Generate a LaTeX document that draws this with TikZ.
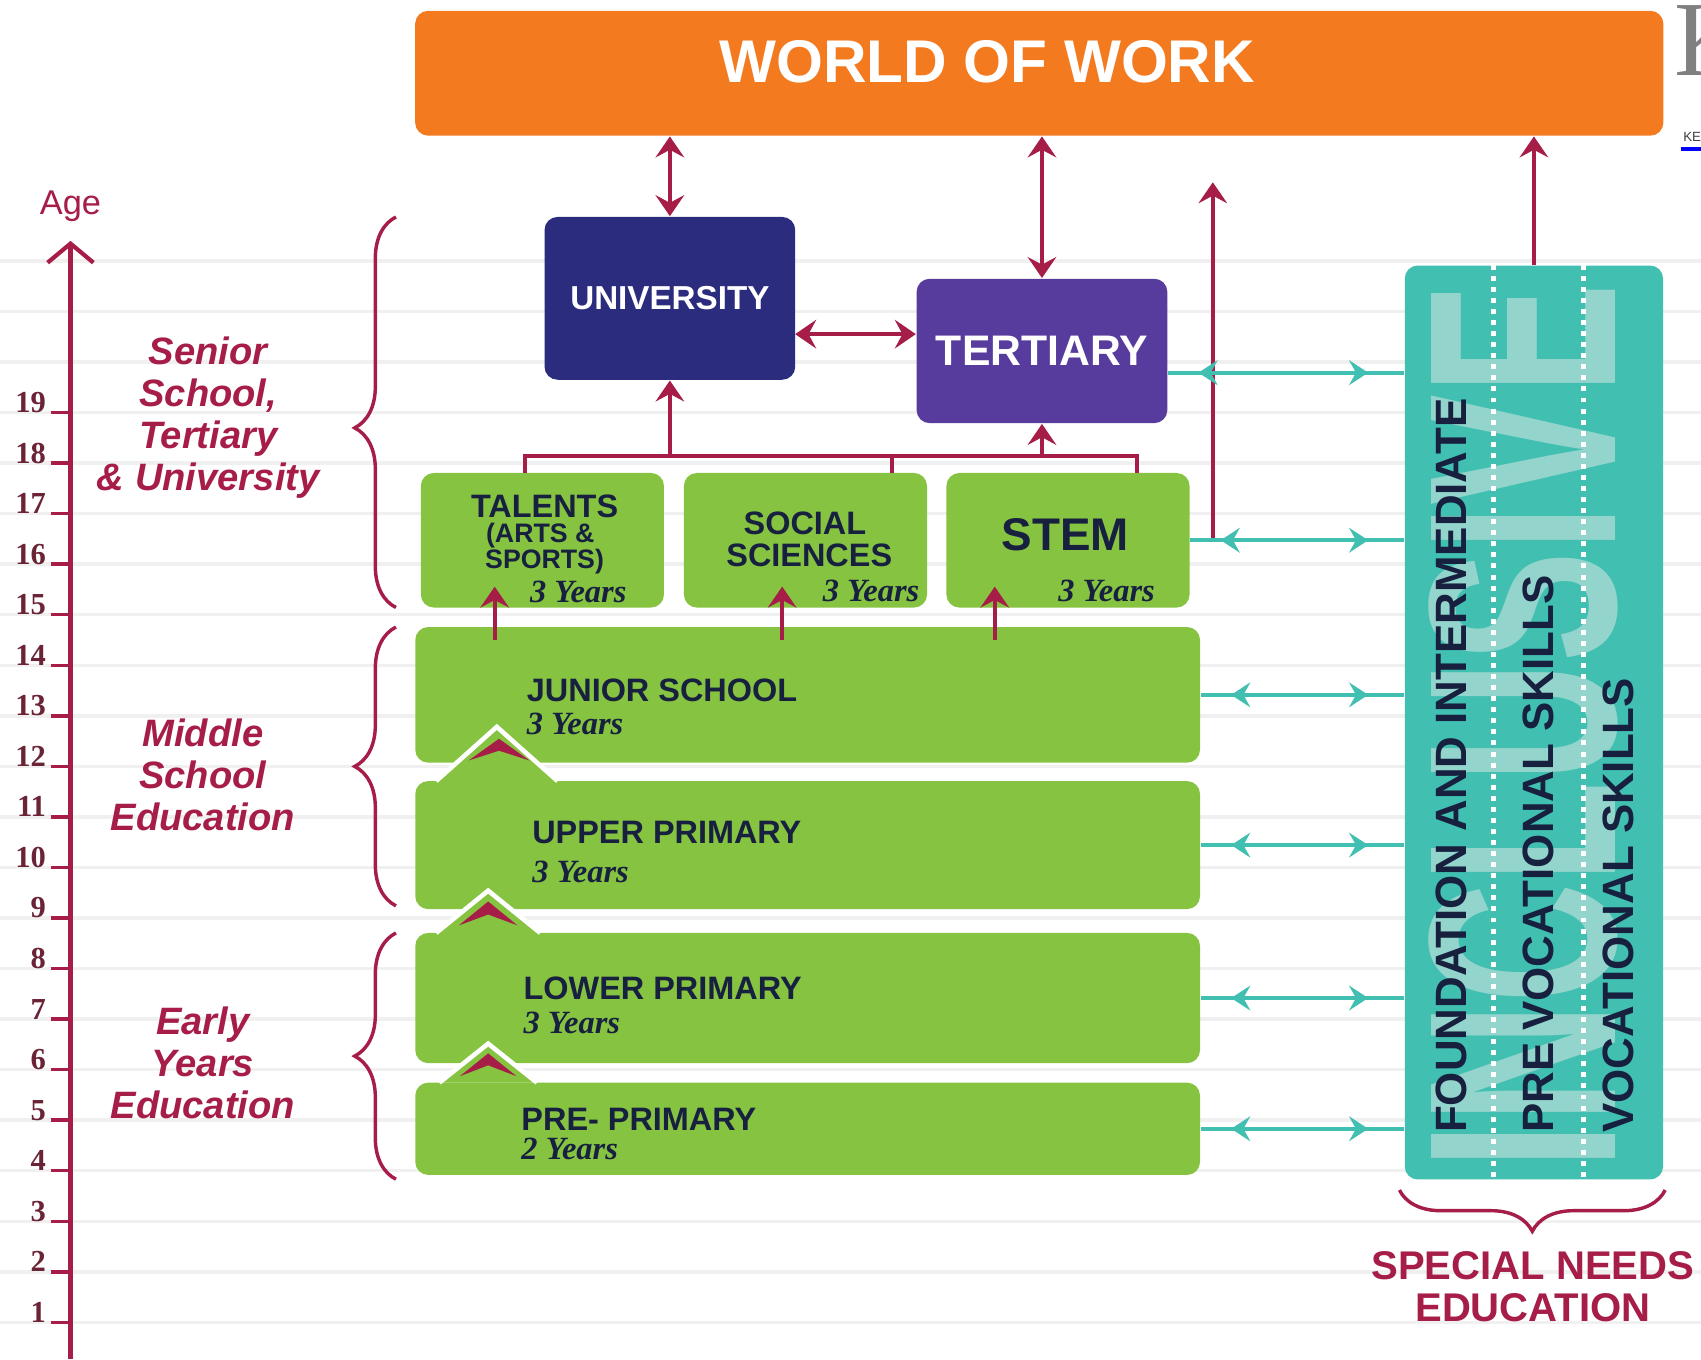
\documentclass[tikz,border=0pt]{standalone}
\usepackage{fontspec}
\setmainfont{Liberation Sans}
\newfontfamily\serifyears{Liberation Serif}
\usetikzlibrary{arrows.meta,decorations.pathreplacing,decorations.markings}

\begin{document}
\begin{tikzpicture}[x=0.01cm,y=-0.01cm,
    box/.style={rounded corners=0.12cm,inner sep=0pt},
    level/.style={box,fill=levelgreen,minimum width=7.23cm},
    stream/.style={box,fill=levelgreen,minimum width=2.24cm,minimum height=1.24cm},
    headtext/.style={text=inknavy,inner sep=0pt,font=\bfseries\fontsize{8.5}{9}\selectfont},
    years/.style={text=inknavy,inner sep=0pt,font=\serifyears\bfseries\itshape\fontsize{8.5}{9}\selectfont},
    grouplabel/.style={text=agered,align=center,inner sep=0pt,font=\bfseries\itshape\fontsize{10}{11.06}\selectfont},
    snetext/.style={text=inknavy,rotate=90,anchor=west,inner sep=0pt,font=\bfseries\fontsize{11.5}{12}\selectfont},
    gridline/.style={gridgray,line width=0.9pt},
    ageaxis/.style={agered,line width=1.1pt,-{Straight Barb[length=5pt,width=12pt]}},
    agetick/.style={agered,line width=0.9pt},
    agenum/.style={text=agenumc,inner sep=0pt,font=\serifyears\bfseries\fontsize{8}{8}\selectfont},
    redtip/.tip={Stealth[length=5.5pt,width=7.5pt,inset=2pt]},
    link/.style={agered,line width=1pt},
    redarrow/.style={link,-redtip},
    redboth/.style={link,redtip-redtip},
    snelink/.style={sneteal,line width=1pt,postaction={decorate},
      decoration={markings,
        mark=at position 0.28cm with {\arrowreversed{Stealth[length=5pt,width=6.5pt,inset=1.8pt]}},
        mark=at position -0.33cm with {\arrow{Stealth[length=5pt,width=6.5pt,inset=1.8pt]}}}},
    brace/.style={agered,line width=0.9pt,decorate,decoration={brace,amplitude=0.38cm}},
    peakedge/.style={white,line width=1.2pt,line join=miter},
    chevron/.style={fill=agered},
    dotline/.style={white,line width=1.3pt,dash pattern=on 1.3pt off 1.6pt}]
    \definecolor{workorange}{HTML}{F47A20}
    \definecolor{uninavy}{HTML}{2B2C7D}
    \definecolor{tertpurple}{HTML}{583C9D}
    \definecolor{levelgreen}{HTML}{86C341}
    \definecolor{sneteal}{HTML}{41BFB1}
    \definecolor{snelight}{HTML}{93D5CC}
    \definecolor{agered}{HTML}{A61D48}
    \definecolor{agenumc}{HTML}{6A2436}
    \definecolor{inknavy}{HTML}{17203F}
    \definecolor{gridgray}{HTML}{F0F0F0}
    \useasboundingbox (0,0) rectangle (1568,1253);
    % background lines
    \foreach \k in {0,...,21}
      \draw[gridline] (0,{1219-46.6*\k}) -- (1568,{1219-46.6*\k});
    % age axis
    \coordinate (axisfoot) at (65,1253);
    \coordinate (axistop) at (65,222);
    \draw[ageaxis] (axisfoot) -- (axistop);
    \node[text=agered,font=\fontsize{9}{9}\selectfont] (age) at (65,190) {Age};
    \foreach \a in {1,...,19} {
      \draw[agetick] (47,{1219-46.6*(\a-1)}) -- (65,{1219-46.6*(\a-1)});
      \node[agenum,anchor=base east] at (43,{1219-46.6*(\a-1)}) {\a};
    }
    % braces
    \draw[brace,decoration={aspect=0.46}] (365,560) -- (365,200);
    \draw[brace] (365,835) -- (365,578);
    \draw[brace] (365,1087) -- (365,860);
    \node[grouplabel] (senior) at (192,385) {Senior\\School,\\Tertiary\\\& University};
    \node[grouplabel] (middle) at (187,714) {Middle\\School\\Education};
    \node[grouplabel] (early) at (187,980) {Early\\Years\\Education};

    % world of work
    \node[box,fill=workorange,minimum width=11.5cm,minimum height=1.15cm] (work) at (958,67.5) {};
    \node[text=white,inner sep=0pt,font=\bfseries\fontsize{15.8}{18}\selectfont] (worklbl) at (910,57) {WORLD OF WORK};
    % university, tertiary
    \node[box,fill=uninavy,minimum width=2.31cm,minimum height=1.5cm,text=white,font=\bfseries\fontsize{8.7}{9}\selectfont] (uni) at (617.5,275) {UNIVERSITY};
    \node[box,fill=tertpurple,minimum width=2.31cm,minimum height=1.33cm,text=white,font=\bfseries\fontsize{11.2}{12}\selectfont] (tert) at (960.5,323.5) {TERTIARY};

    % senior school pathways
    \node[stream] (talents) at (500,498) {};
    \node[stream] (social) at (742.5,498) {};
    \node[stream] (stem) at (984.5,498) {};
    \node[headtext] at (502,467) {TALENTS};
    \node[headtext,font=\bfseries\fontsize{7}{7}\selectfont] at (498,494) {(ARTS \&};
    \node[headtext,font=\bfseries\fontsize{7}{7}\selectfont] at (502,518) {SPORTS)};
    \node[headtext] at (742,482) {SOCIAL};
    \node[headtext] at (746,512) {SCIENCES};
    \node[headtext,font=\bfseries\fontsize{12}{12}\selectfont] at (982,493) {STEM};
    \node[years] at (533,546) {3 Years};
    \node[years] at (803,545) {3 Years};
    \node[years] at (1020,545) {3 Years};

    % levels
    \node[level,minimum height=1.25cm] (junior) at (744.5,640.5) {};
    \node[level,minimum height=1.18cm] (upper) at (744.5,779) {};
    \node[level,minimum height=1.2cm] (lower) at (744.5,920) {};
    \node[level,minimum height=0.85cm] (pre) at (744.5,1040.5) {};
    % peaks
    \fill[levelgreen] (402,720) -- (458,670) -- (514,720) -- cycle;
    \draw[peakedge] (402,720) -- (458,670) -- (514,720);
    \fill[levelgreen] (402,860) -- (450,821) -- (498,860) -- cycle;
    \draw[peakedge] (402,860) -- (450,821) -- (498,860);
    \fill[levelgreen] (405,998) -- (450,962) -- (495,998) -- cycle;
    \draw[peakedge] (405,998) -- (450,962) -- (495,998);
    \path[chevron] (460,681) -- (488,701) -- (460,692) -- (432,701) -- cycle;
    \path[chevron] (450,831) -- (477,853) -- (450,843) -- (423,853) -- cycle;
    \path[chevron] (450,971) -- (476,992) -- (450,982) -- (424,992) -- cycle;
    \node[headtext,anchor=west] at (485,636) {JUNIOR SCHOOL};
    \node[years,anchor=west] at (485,667) {3 Years};
    \node[headtext,anchor=west] at (490,767) {UPPER PRIMARY};
    \node[years,anchor=west] at (490,804) {3 Years};
    \node[headtext,anchor=west] at (482,911) {LOWER PRIMARY};
    \node[years,anchor=west] at (482,943) {3 Years};
    \node[headtext,anchor=west] at (480,1032) {PRE- PRIMARY};
    \node[years,anchor=west] at (480,1059) {2 Years};

    % special needs
    \node[box,fill=sneteal,minimum width=2.38cm,minimum height=8.42cm] (sne) at (1414,666) {};
    \node[rotate=90,inner sep=0pt,text=snelight,font=\bfseries] (inclusive) at (1404,670) {\resizebox{8.16cm}{1.72cm}{INCLUSIVE}};
    \draw[dotline] ([xshift=-0.37cm]sne.north) -- ([xshift=-0.37cm]sne.south);
    \draw[dotline] ([xshift=0.46cm]sne.north) -- ([xshift=0.46cm]sne.south);
    \node[snetext] at (1338,1045) {FOUNDATION AND INTERMEDIATE};
    \node[snetext] at (1418,1045) {PRE VOCATIONAL SKILLS};
    \node[snetext] at (1492,1045) {VOCATIONAL SKILLS};
    \draw[brace] (1535,1097) -- (1290,1097);
    \node[text=agered,align=center,inner sep=0pt,font=\bfseries\fontsize{10.5}{11}\selectfont] (snelbl) at (1413,1186) {SPECIAL NEEDS\\EDUCATION};

    % connectors
    \draw[redboth] (work.south -| uni.north) -- (uni.north);
    \draw[redboth] (work.south -| tert.north) -- (tert.north);
    \coordinate (unilink) at (733,308);
    \draw[redboth] (unilink) -- (unilink -| tert.west);
    \draw[redarrow] (sne.north) -- (sne.north |- work.south);
    \coordinate (fork) at (617.5,420);
    \coordinate (tfork) at (960.5,420);
    \coordinate (talentsjoin) at (484,436);
    \coordinate (socialjoin) at (822,436);
    \coordinate (stemjoin) at (1048,436);
    \draw[link] (talentsjoin) |- (fork) -| (stemjoin);
    \draw[link] (socialjoin) -- (socialjoin |- fork);
    \draw[redarrow] (fork) -- (uni.south);
    \draw[redarrow] (tfork) -- (tert.south);
    \coordinate (stemout) at (1118,168);
    \draw[redarrow] (stem.east) -| (stemout);
    \coordinate (talentsfoot) at (456,590);
    \coordinate (socialfoot) at (721,590);
    \coordinate (stemfoot) at (917,590);
    \foreach \s in {talents,social,stem}
      \draw[redarrow] (\s foot) -- ([yshift=0.2cm]\s foot |- \s.south);
    \path ([yshift=-0.2cm]tert.east) coordinate (tertlink);
    \draw[snelink] (tertlink) -- (tertlink -| sne.west);
    \foreach \n in {stem,junior,upper,lower,pre}
      \draw[snelink] (\n.east) -- (\n.east -| sne.west);

    % cut edge
    \node[text=gray,inner sep=0pt,anchor=base west,font=\serifyears\fontsize{28}{28}\selectfont] (cutk) at (1543,70) {K};
    \node[text=darkgray,inner sep=0pt,anchor=base west,font=\fontsize{3.5}{4}\selectfont] (cutken) at (1551,130) {KEN};
    \draw[blue,line width=1pt] (1550,137) -- (1568,137);
\end{tikzpicture}
\end{document}
